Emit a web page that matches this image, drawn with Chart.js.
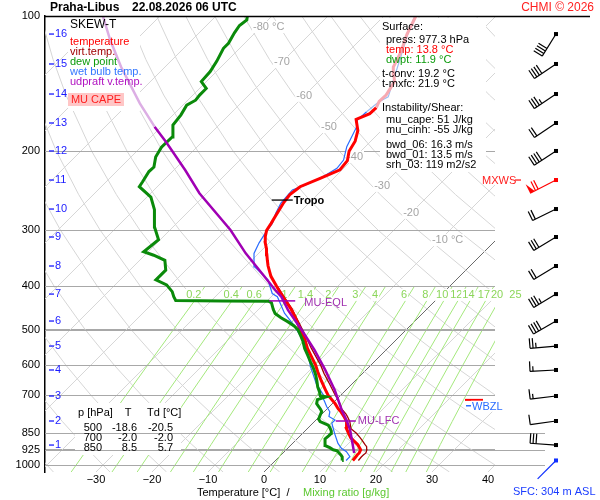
<!DOCTYPE html>
<html>
<head>
<meta charset="utf-8">
<script src="https://cdn.jsdelivr.net/npm/chart.js@4.4.1/dist/chart.umd.min.js"></script>
<style>
  html, body { margin: 0; padding: 0; background: #fff; }
  #wrap { width: 600px; height: 500px; position: relative; }
</style>
</head>
<body>
<div id="wrap"><canvas id="skewt"></canvas></div>
<script>
// ---- sounding data (pressure hPa / temperature °C) ----
const tempP = [977,960,950,940,925,910,900,880,870,850,830,815,800,780,760,750,730,700,680,650,620,600,575,550,525,500,475,450,425,400,380,360,350,340,330,320,310,300,290,280,270,260,250,240,230,220,210,200,190,180,170,165,160,155,150,140,135,130,120,110,100];
const tempT = [13.8,13.7,13.6,13.6,13.3,12.4,11.8,10.2,9.4,8.2,7.0,6.4,5.7,4.4,2.9,2.0,0.5,-2.2,-3.7,-6.0,-8.3,-9.8,-12.0,-14.3,-16.4,-18.9,-21.4,-24.2,-27.5,-30.9,-33.7,-36.1,-37.2,-38.3,-39.4,-40.7,-41.8,-42.7,-43.1,-43.6,-44.1,-44.6,-44.9,-44.5,-42.4,-40.4,-40.7,-42.1,-42.8,-44.2,-46.5,-45.1,-45.0,-45.6,-45.5,-46.4,-47.8,-49.2,-50.6,-52.6,-54.3];

const virtP = [977,960,950,940,925,910,900,880,870,850,830,800,780,770,750,725,695,660,625,600,550,500,450,400];
const virtT = [14.8,14.7,14.7,14.8,14.4,13.8,13.1,11.8,11.1,9.6,7.8,6.3,5.0,4.3,2.6,1.0,-1.3,-4.0,-6.9,-8.9,-13.6,-18.5,-24.0,-30.8];

const dewP = [977,960,950,940,930,925,915,905,890,875,860,850,840,825,815,800,790,775,760,750,740,730,715,705,700,690,670,650,630,610,590,570,550,530,515,500,490,480,470,460,450,435,432,431,430,422,411,397,387,368,350,341,335,315,295,270,253,240,234,222,217,206,196,186,175,166,158,154,150,145,140,133,126,118,115,109,105,102,100];
const dewT = [11.9,11.3,10.7,10.0,9.3,8.4,7.4,6.2,5.6,5.0,5.1,5.1,4.7,3.8,3.1,1.0,0.3,-0.1,-0.5,-1.2,-2.0,-2.8,-3.4,-2.3,-3.8,-4.2,-5.6,-6.8,-8.1,-9.6,-11.3,-13.0,-14.8,-16.4,-17.8,-19.3,-20.7,-22.5,-24.5,-26.3,-27.4,-28.9,-29.6,-38.0,-46.4,-47.4,-48.6,-50.8,-53.6,-53.6,-55.5,-58.4,-60.8,-60.3,-63.3,-66.4,-69.3,-73.2,-73.5,-74.2,-74.1,-75.6,-76.3,-76.2,-78.2,-78.6,-79.3,-78.6,-78.8,-78.8,-80.9,-81.1,-81.8,-82.9,-82.9,-83.7,-84.1,-83.8,-84.4];

const wetP = [977,958,934,918,895,850,807,794,780,761,741,723,709,700,658,604,554,518,492,459,422,415,387,362,338,320,305,289.5,275,261,244,238,228,218.4,209.3,195.5,176.4,170.4,163.4,155.2,151.4,135.3,109.3,100];
const wetT = [12.6,12.6,11.1,9.6,8.1,5.7,3.4,3.4,1.7,1.0,-0.5,-1.7,-2.7,-3.0,-6.5,-10.5,-14.1,-17.6,-20.4,-24.7,-28.9,-30.4,-33.6,-38.3,-40.8,-41.8,-42.4,-42.9,-44.1,-45.0,-45.3,-43.9,-42.2,-41.2,-41.5,-43.3,-45.1,-46.2,-46.0,-45.6,-44.8,-47.5,-52.6,-54.5];

const parcelP = [940,836,798,754,681,614,554,505,452,422,407.6,377.5,337.8,299.6,248.2,220.3,190.5,176.4,156.5,129.7,113.1,100];
const parcelT = [12.7,7.9,5.7,2.8,-2.0,-7.3,-12.8,-18.1,-24.6,-28.2,-30.5,-35.3,-42.3,-49.2,-61.3,-68.0,-76.5,-81.2,-88.0,-97.9,-104.6,-110.2];

// ---- axes / grid values ----
const pressTicks = [100,200,300,400,500,600,700,850,925,1000];
const tempTicks = [-30,-20,-10,0,10,20,30,40];
const isoT = [-110,-100,-90,-80,-70,-60,-50,-40,-30,-20,-10,10,20,30,40];
const isoLabelT = [-80,-70,-60,-50,-40,-30,-20,-10];
const isoLabelP = [105.8,126.6,150.6,176.7,206,239,274.4,315.6];
const thetaC = [-40,-30,-20,-10,0,10,20,30,40,50,60,70,80,90,100,110,120,130,140,150,160,170,180];
const mixW = [0.2,0.4,0.6,1,1.4,2,3,4,6,8,10,12,14,17,20,25];
const mixLabelP = 418;

// altitude (km) scale and winds
const kmVal = [1,2,3,4,5,6,7,8,9,10,11,12,13,14,15,16];
const kmP = [902.7,798,702,614.3,543.3,477.9,416.2,360.4,310.6,269.1,231.9,199.8,173.1,149.2,127.9,109.7];
const windP = [977,902.7,798,702,614.3,543.3,477.9,416.2,360.4,310.6,269.1,231.9,199.8,173.1,149.2,127.9,109.7];
const windDir = [225,274,262,263,267,265,240,239,239,239,244,243,237,236,236,236,212];
const windSpd = [2,30,10,15,15,25,40,35,20,30,20,70,40,20,35,40,40];

// levels marked on the diagram
const tropoP = 257, tropoT = -45.3;
const eqlP = 431, eqlT = -27.3;
const lfcP = 798, lfcT = 5.5;
const fzlP = 716, wbzlP = 738;

const tblP = ['500','700','850'];
const tblT = ['-18.6','-2.0','8.5'];
const tblTd = ['-20.5','-2.0','5.7'];

// ---- skew-T transform ----
const P_BOT = 1036.5;
const SKEW = 80.18;
const skewX = (t, p) => t + SKEW * Math.log10(P_BOT / p);
const pts = (ps, ts) => ps.map((p, i) => ({ x: skewX(ts[i], p), y: p }));

function mixTd(w, p) {
    const e = w * p / (622 + w);
    const l = Math.log(e / 6.112);
    return 243.5 * l / (17.67 - l);
}

function lineDs(data, color, width, order, extra) {
    return Object.assign({
        data: data, showLine: true, borderColor: color, borderWidth: width,
        pointRadius: 0, pointHoverRadius: 0, fill: false, tension: 0, order: order
    }, extra || {});
}

const datasets = [];

// isotherms
isoT.forEach(t => {
    datasets.push(lineDs([{ x: skewX(t, P_BOT), y: P_BOT }, { x: skewX(t, 100), y: 100 }], '#d6d6d6', 1, 20));
});
datasets.push(lineDs([{ x: skewX(0, P_BOT), y: P_BOT }, { x: skewX(0, 100), y: 100 }], '#6a6a6a', 1, 19));

// dry adiabats
const adiabatP = [P_BOT,1000,900,800,700,600,500,400,300,250,200,150,125,100];
thetaC.forEach(th => {
    const d = adiabatP.map(p => ({ x: skewX((th + 273.15) * Math.pow(p / 1000, 0.2857) - 273.15, p), y: p }));
    datasets.push(lineDs(d, '#d6d6d6', 1, 18));
});

// mixing ratio lines
const mixP = [P_BOT,950,900,850,800,700,600,500,400];
mixW.forEach(w => {
    datasets.push(lineDs(mixP.map(p => ({ x: skewX(mixTd(w, p), p), y: p })), '#a4e87c', 1, 17));
});

// profiles
datasets.push(lineDs(pts(virtP, virtT), '#a00000', 1.3, 6, { profile: true }));
datasets.push(lineDs(pts(wetP, wetT), '#2a6cff', 1.2, 5, {
    profile: true,
    segment: { borderColor: c => (c.p1.parsed.y < 156 ? '#9cbdf2' : undefined) }
}));
datasets.push(lineDs(pts(tempP, tempT), '#ff0000', 3, 4, {
    profile: true,
    segment: { borderColor: c => (c.p1.parsed.y < 156 ? '#f7a9b1' : undefined) }
}));
datasets.push(lineDs(pts(dewP, dewT), '#0a8a0a', 3, 3, { profile: true }));
datasets.push(lineDs(pts(parcelP, parcelT), '#a000b4', 2.5, 2, {
    profile: true,
    segment: { borderColor: c => (c.p1.parsed.y < 157 ? '#dcaee4' : undefined) }
}));

// ---- drawing helpers ----
const FONT = '"Liberation Sans", Arial, sans-serif';
function txt(ctx, s, x, y, color, size, align, bold) {
    ctx.fillStyle = color;
    ctx.font = (bold ? 'bold ' : '') + size + 'px ' + FONT;
    ctx.textAlign = align || 'left';
    ctx.textBaseline = 'middle';
    ctx.fillText(s, x, y);
}
function pix(chart, t, p) {
    return { x: chart.scales.x.getPixelForValue(skewX(t, p)), y: chart.scales.y.getPixelForValue(p) };
}
function hline(ctx, x1, x2, y, color, w) {
    ctx.strokeStyle = color; ctx.lineWidth = w || 1;
    ctx.beginPath(); ctx.moveTo(x1, y); ctx.lineTo(x2, y); ctx.stroke();
}

function drawBarb(ctx, x0, y0, dir, spd, color, len) {
    const r = dir * Math.PI / 180;
    const dx = Math.sin(r), dy = -Math.cos(r);
    const nx = -dy, ny = dx;
    ctx.strokeStyle = color; ctx.fillStyle = color; ctx.lineWidth = 1.2;
    ctx.beginPath(); ctx.moveTo(x0, y0); ctx.lineTo(x0 + dx * len, y0 + dy * len); ctx.stroke();
    ctx.fillRect(x0 - 2, y0 - 2, 4, 4);
    let s = Math.round(spd / 5) * 5;
    let pos = len;
    const bl = 10, gap = 3;
    while (s >= 50) {
        ctx.beginPath();
        ctx.moveTo(x0 + dx * pos, y0 + dy * pos);
        ctx.lineTo(x0 + dx * pos + nx * bl, y0 + dy * pos + ny * bl);
        ctx.lineTo(x0 + dx * (pos - 5), y0 + dy * (pos - 5));
        ctx.closePath(); ctx.fill();
        pos -= 6; s -= 50;
    }
    while (s >= 10) {
        ctx.beginPath();
        ctx.moveTo(x0 + dx * pos, y0 + dy * pos);
        ctx.lineTo(x0 + dx * pos + nx * bl, y0 + dy * pos + ny * bl);
        ctx.stroke();
        pos -= gap; s -= 10;
    }
    if (s >= 5) {
        if (pos === len) pos -= gap;
        ctx.beginPath();
        ctx.moveTo(x0 + dx * pos, y0 + dy * pos);
        ctx.lineTo(x0 + dx * pos + nx * bl / 2, y0 + dy * pos + ny * bl / 2);
        ctx.stroke();
    }
}

// white boxes and grid labels, drawn between the grid lines and the profiles
function drawUnderlay(chart) {
    const ctx = chart.ctx, a = chart.chartArea, ys = chart.scales.y;
    ctx.save();
    ctx.fillStyle = '#fff';
    ctx.fillRect(75, 403, 106, 52);
    pressTicks.forEach(p => {
        if (p === 100) return;
        hline(ctx, a.left, a.right, Math.round(ys.getPixelForValue(p)) + 0.5, '#a8a8a8', 1);
    });
    // isotherm labels
    isoLabelT.forEach((t, i) => {
        const c = pix(chart, t, isoLabelP[i]);
        const s = '-' + Math.abs(t);
        ctx.font = '11px ' + FONT;
        const w = ctx.measureText(s).width;
        const unit = (t === -80 || t === -10) ? ' °C' : '';
        const uw = unit ? ctx.measureText(unit).width : 0;
        ctx.fillStyle = '#fff';
        ctx.fillRect(c.x - w / 2 - 1, c.y - 6, w + uw + 2, 12);
        txt(ctx, s + unit, c.x - w / 2, c.y, '#a4a4a4', 11, 'left');
    });
    // mixing ratio labels
    mixW.forEach(w => {
        const c = pix(chart, mixTd(w, mixLabelP), mixLabelP);
        const s = String(w);
        ctx.font = '11px ' + FONT;
        const tw = ctx.measureText(s).width;
        ctx.fillStyle = '#fff';
        ctx.fillRect(c.x - 5 - tw / 2 - 1, c.y - 6, tw + 2, 12);
        txt(ctx, s, c.x - 5, c.y, '#8cd65a', 11, 'center');
    });
    // legend box and surface box
    ctx.fillStyle = '#fff';
    ctx.fillRect(68, 17, 72, 94);
    ctx.fillStyle = '#ffc6c6';
    ctx.fillRect(68, 93, 56, 13);
    ctx.fillStyle = '#fff';
    ctx.fillRect(380, 18, 106, 154);
    ctx.restore();
}

function drawOverlay(chart) {
    const ctx = chart.ctx;
    ctx.save();
    // legend
    txt(ctx, 'SKEW-T', 70, 25, '#000', 12);
    txt(ctx, 'temperature', 70, 42, '#ff0000', 11);
    txt(ctx, 'virt.temp.', 70, 52, '#a00000', 11);
    txt(ctx, 'dew point', 70, 62, '#0a9a0a', 11);
    txt(ctx, 'wet bulb temp.', 70, 72, '#3377ff', 11);
    txt(ctx, 'udpraft v.temp.', 70, 82, '#b010c0', 11);
    txt(ctx, 'MU CAPE', 96, 100, '#ff2020', 11, 'center');
    // surface info
    txt(ctx, 'Surface:', 382, 27, '#000', 11);
    txt(ctx, 'press: 977.3 hPa', 386, 40, '#000', 11);
    txt(ctx, 'temp: 13.8 °C', 386, 50, '#ff0000', 11);
    txt(ctx, 'dwpt: 11.9 °C', 386, 60, '#0a9a0a', 11);
    txt(ctx, 't-conv: 19.2 °C', 382, 74, '#000', 11);
    txt(ctx, 't-mxfc: 21.9 °C', 382, 84, '#000', 11);
    txt(ctx, 'Instability/Shear:', 382, 108, '#000', 11);
    txt(ctx, 'mu_cape: 51 J/kg', 386, 120, '#000', 11);
    txt(ctx, 'mu_cinh: -55 J/kg', 386, 130, '#000', 11);
    txt(ctx, 'bwd_06: 16.3 m/s', 386, 145, '#000', 11);
    txt(ctx, 'bwd_01: 13.5 m/s', 386, 155, '#000', 11);
    txt(ctx, 'srh_03: 119 m2/s2', 386, 165, '#000', 11);
    // table
    txt(ctx, 'p [hPa]', 78, 413, '#000', 11);
    txt(ctx, 'T', 128, 413, '#000', 11, 'center');
    txt(ctx, 'Td [°C]', 147, 413, '#000', 11);
    tblP.forEach((p, i) => {
        const y = 428 + i * 10;
        txt(ctx, p, 102, y, '#000', 11, 'right');
        txt(ctx, tblT[i], 137, y, '#000', 11, 'right');
        txt(ctx, tblTd[i], 173, y, '#000', 11, 'right');
    });
    // marked levels
    let c = pix(chart, tropoT, tropoP);
    hline(ctx, c.x - 10.5, c.x + 10.5, c.y, '#000', 1.3);
    txt(ctx, 'Tropo', c.x + 11.5, c.y + 1, '#000', 11, 'left', true);
    c = pix(chart, eqlT, eqlP);
    hline(ctx, c.x - 13, c.x + 13, c.y, '#a000b4', 1.5);
    txt(ctx, 'MU-EQL', c.x + 22, c.y + 2, '#a030b0', 11);
    c = pix(chart, lfcT, lfcP);
    hline(ctx, c.x - 10, c.x + 10, c.y, '#a000b4', 1.5);
    txt(ctx, 'MU-LFC', c.x + 12, c.y, '#a030b0', 11);
    const ys = chart.scales.y;
    const yf = ys.getPixelForValue(fzlP), yw = ys.getPixelForValue(wbzlP);
    hline(ctx, 465, 483, yf, '#ff0000', 2);
    ctx.fillStyle = '#fff';
    ctx.fillRect(471, yw - 5, 30, 11);
    hline(ctx, 466, 471, yw, '#2a6cff', 1.5);
    txt(ctx, 'WBZL', 472, yw + 1, '#2a6cff', 11);
    ctx.restore();
}

function drawFrame(chart) {
    const ctx = chart.ctx, a = chart.chartArea, ys = chart.scales.y;
    ctx.save();
    hline(ctx, a.left, 590, a.top + 0.5, '#000', 1.5);
    [850, 925, 1000].forEach(p => {
        hline(ctx, a.right, 545, Math.round(ys.getPixelForValue(p)) + 0.5, '#a8a8a8', 1);
    });
    // altitude scale
    kmVal.forEach((k, i) => {
        const y = ys.getPixelForValue(kmP[i]);
        hline(ctx, 49, 54, y, '#1a1aff', 1.3);
        txt(ctx, String(k), 55, y, '#1a1aff', 11);
    });
    // wind barbs
    const maxI = windSpd.indexOf(Math.max(...windSpd));
    windP.forEach((p, i) => {
        const y = ys.getPixelForValue(p);
        const col = i === 0 ? '#1030ff' : (i === maxI ? '#ff0000' : '#000');
        drawBarb(ctx, 556, y, windDir[i], windSpd[i], col, i === maxI ? 29 : 26);
        if (i === maxI) {
            txt(ctx, 'MXWS', 482, y + 1, '#ff2020', 11);
            hline(ctx, 515, 521, y, '#ff2020', 1.3);
        }
    });
    // titles
    txt(ctx, 'Praha-Libus', 50, 8, '#000', 12, 'left', true);
    txt(ctx, '22.08.2026 06 UTC', 132, 8, '#000', 12, 'left', true);
    txt(ctx, 'CHMI © 2026', 594, 8, '#ff2020', 12, 'right');
    txt(ctx, 'Temperature [°C]  /', 197, 493, '#000', 11);
    txt(ctx, 'Mixing ratio [g/kg]', 303, 493, '#5cc830', 11);
    txt(ctx, 'SFC: 304 m ASL', 513, 492, '#1a3cff', 11);
    ctx.restore();
}

const decor = {
    id: 'decor',
    beforeDatasetsDraw(chart) { chart.$boxesDone = false; },
    beforeDatasetDraw(chart, args) {
        if (chart.$boxesDone || !chart.data.datasets[args.index].profile) return;
        chart.$boxesDone = true;
        drawUnderlay(chart);
    },
    afterDatasetsDraw(chart) { drawOverlay(chart); },
    afterDraw(chart) { drawFrame(chart); }
};

Chart.defaults.font.family = FONT;

new Chart(document.getElementById('skewt'), {
    type: 'scatter',
    data: { datasets: datasets },
    options: {
        responsive: true,
        maintainAspectRatio: false,
        animation: false,
        devicePixelRatio: 1,
        events: [],
        layout: { padding: { left: 0, right: 105, top: 16, bottom: 0 } },
        plugins: { legend: { display: false }, tooltip: { enabled: false } },
        scales: {
            x: {
                type: 'linear', position: 'bottom', bounds: 'data',
                min: -39.1, max: 41.25,
                grid: { display: false, drawTicks: false },
                border: { display: false },
                afterBuildTicks: s => { s.ticks = tempTicks.map(v => ({ value: v })); },
                afterFit: s => { s.height = 28; s.paddingLeft = 0; s.paddingRight = 0; },
                ticks: {
                    autoSkip: false, maxRotation: 0, padding: 1, color: '#000',
                    font: { size: 11 },
                    callback: v => (v < 0 ? '\u2212' + Math.abs(v) : String(v))
                }
            },
            y: {
                type: 'logarithmic', reverse: true, bounds: 'data',
                min: 100, max: P_BOT,
                grid: { color: '#a8a8a8', lineWidth: 1, drawTicks: false },
                border: { display: true, color: '#000', width: 1.5 },
                afterBuildTicks: s => { s.ticks = pressTicks.map(v => ({ value: v })); },
                afterFit: s => { s.width = 45; s.paddingTop = 0; s.paddingBottom = 0; },
                ticks: {
                    autoSkip: false, padding: 5, color: '#000',
                    font: { size: 11 },
                    callback: v => String(v)
                }
            }
        }
    },
    plugins: [decor]
});
</script>
</body>
</html>
